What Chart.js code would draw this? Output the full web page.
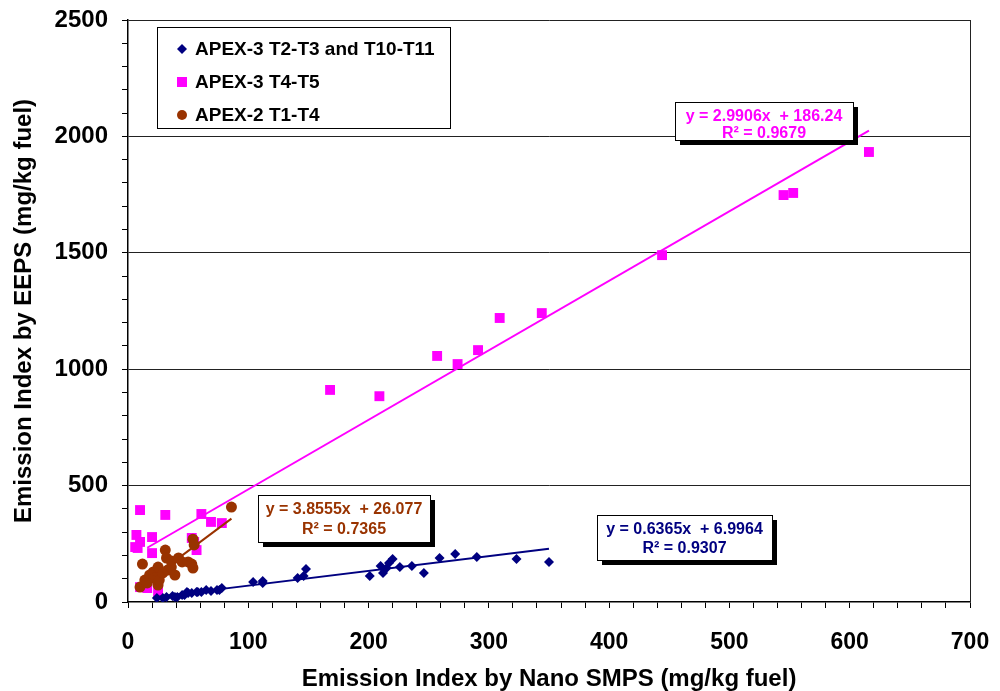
<!DOCTYPE html>
<html>
<head>
<meta charset="utf-8">
<script src="https://cdn.jsdelivr.net/npm/chart.js@4.4.0/dist/chart.umd.min.js"></script>
<style>
  html, body { margin: 0; background: #fff; }
  #wrap { width: 1000px; height: 691px; position: relative; }
</style>
</head>
<body>
<div id="wrap"><canvas id="chart"></canvas></div>
<script>
// Data: [Nano SMPS, EEPS] pairs in mg/kg fuel
const APEX3_T2T3 = [
  [24,17],[29,17],[32,21],[37,26],[39,21],[41,21],[45,30],[47,30],[49,43],[50,39],
  [53,39],[57,43],[58,43],[61,43],[65,52],[69,47],[74,52],[76,52],[78,60],
  [104,86],[112,90],[112,82],[141,103],[146,112],[148,142],[201,112],[210,155],
  [212,125],[215,146],[217,167],[220,185],[226,150],[236,155],[246,125],[259,189],
  [272,206],[290,193],[323,185],[350,172]
];
const APEX3_T4T5 = [
  [6,236],[7,288],[8,232],[10,258],[10,395],[10,64],[16,60],[20,279],[20,210],[25,43],
  [31,374],[53,275],[55,258],[57,223],[61,378],[69,344],[78,339],
  [168,911],[209,884],[257,1057],[274,1022],[291,1082],[309,1220],[344,1241],
  [444,1490],[545,1748],[553,1757],[616,1933]
];
const APEX2_T1T4 = [
  [10,64],[12,163],[14,94],[16,82],[18,116],[21,129],[22,103],[25,150],[25,73],[26,94],
  [29,125],[31,223],[32,189],[33,137],[36,176],[36,150],[39,116],[42,189],[45,172],
  [50,172],[53,163],[54,146],[54,270],[55,245],[86,408]
];

// Linear trendline end points (as drawn)
const TREND_T2T3 = [[24,22],[350,229]];
const TREND_T4T5 = [[16,233],[616,2025]];
const TREND_T1T4 = [[10,65],[86,358]];

const SERIES_NAMES = ["APEX-3 T2-T3 and T10-T11", "APEX-3 T4-T5", "APEX-2 T1-T4"];
const EQUATIONS = [
  ["y = 0.6365x  + 6.9964", "R\u00b2 = 0.9307"],
  ["y = 2.9906x  + 186.24", "R\u00b2 = 0.9679"],
  ["y = 3.8555x  + 26.077", "R\u00b2 = 0.7365"]
];

const X_TICKS = [0, 100, 200, 300, 400, 500, 600, 700];
const Y_TICKS = [0, 500, 1000, 1500, 2000, 2500];

const NAVY = "#000080", MAGENTA = "#ff00ff", BROWN = "#993300";
const FONT = "'Liberation Sans', Arial, sans-serif";

const pts = arr => arr.map(([x, y]) => ({ x, y }));

// legend + equation boxes drawn on the canvas
const annotations = {
  id: "annotations",
  afterDatasetsDraw(chart) {
    const ctx = chart.ctx;
    const area = chart.chartArea;
    ctx.save();
    // right border of the plot
    ctx.strokeStyle = "#222";
    ctx.lineWidth = 1;
    ctx.beginPath();
    ctx.moveTo(area.right + 0.5, area.top);
    ctx.lineTo(area.right + 0.5, area.bottom);
    ctx.stroke();

    // equation boxes
    const boxes = [
      { x: 597, y: 515, w: 175, h: 45, l1: 530, l2: 549, color: NAVY, text: EQUATIONS[0] },
      { x: 675, y: 102, w: 178, h: 38, l1: 117, l2: 134, color: MAGENTA, text: EQUATIONS[1] },
      { x: 258, y: 495, w: 172, h: 47, l1: 510, l2: 530, color: BROWN, text: EQUATIONS[2] }
    ];
    boxes.forEach(b => {
      ctx.fillStyle = "#000";
      ctx.fillRect(b.x + 5, b.y + 5, b.w, b.h);
      ctx.fillStyle = "#fff";
      ctx.fillRect(b.x, b.y, b.w, b.h);
      ctx.strokeStyle = "#000";
      ctx.lineWidth = 1;
      ctx.strokeRect(b.x + 0.5, b.y + 0.5, b.w, b.h);
      ctx.fillStyle = b.color;
      ctx.font = "bold 16px " + FONT;
      ctx.textAlign = "center";
      ctx.textBaseline = "middle";
      ctx.fillText(b.text[0], b.x + b.w / 2, b.l1);
      ctx.fillText(b.text[1], b.x + b.w / 2, b.l2);
    });

    // legend
    ctx.fillStyle = "#fff";
    ctx.fillRect(157, 27, 293, 101);
    ctx.strokeStyle = "#000";
    ctx.strokeRect(157.5, 27.5, 293, 101);
    const rows = [49, 82, 115];
    ctx.font = "bold 19px " + FONT;
    ctx.textAlign = "left";
    ctx.textBaseline = "middle";
    SERIES_NAMES.forEach((name, i) => {
      const y = rows[i];
      if (i === 0) {
        ctx.fillStyle = NAVY;
        ctx.beginPath();
        ctx.moveTo(182, y - 5); ctx.lineTo(187, y); ctx.lineTo(182, y + 5); ctx.lineTo(177, y);
        ctx.closePath(); ctx.fill();
      } else if (i === 1) {
        ctx.fillStyle = MAGENTA;
        ctx.fillRect(177, y - 5, 10, 10);
      } else {
        ctx.fillStyle = BROWN;
        ctx.beginPath(); ctx.arc(182, y, 5, 0, Math.PI * 2); ctx.fill();
      }
      ctx.fillStyle = "#000";
      ctx.fillText(name, 195, y + 1);
    });
    ctx.restore();
  }
};

const trend = (data, color, order) => ({
  type: "line", data: pts(data), borderColor: color, borderWidth: 2,
  pointRadius: 0, fill: false, showLine: true, order
});

new Chart(document.getElementById("chart"), {
  type: "scatter",
  data: {
    datasets: [
      { label: SERIES_NAMES[1], data: pts(APEX3_T4T5), backgroundColor: MAGENTA, borderColor: MAGENTA,
        pointStyle: "rect", pointRadius: 7, pointBorderWidth: 0, order: 5 },
      trend(TREND_T4T5, MAGENTA, 4),
      { label: SERIES_NAMES[0], data: pts(APEX3_T2T3), backgroundColor: NAVY, borderColor: NAVY,
        pointStyle: "rectRot", pointRadius: 5, pointBorderWidth: 0, order: 3 },
      trend(TREND_T2T3, NAVY, 2),
      { label: SERIES_NAMES[2], data: pts(APEX2_T1T4), backgroundColor: BROWN, borderColor: BROWN,
        pointStyle: "circle", pointRadius: 5.5, pointBorderWidth: 0, order: 1 },
      trend(TREND_T1T4, BROWN, 0)
    ]
  },
  options: {
    responsive: true,
    maintainAspectRatio: false,
    animation: false,
    layout: { padding: { top: 20, right: 30, bottom: 0, left: 0 } },
    plugins: { legend: { display: false }, tooltip: { enabled: false } },
    scales: {
      x: {
        type: "linear", min: 0, max: 700,
        afterFit: s => { s.height = 89; s.paddingLeft = 0; s.paddingRight = 0; },
        afterBuildTicks: s => { s.ticks = []; for (let v = 0; v <= 700; v += 20) s.ticks.push({ value: v }); },
        ticks: {
          autoSkip: false, maxRotation: 0, padding: 21, color: "#000",
          font: { family: FONT, size: 23, weight: "bold" },
          callback: v => X_TICKS.includes(v) ? String(v) : ""
        },
        grid: { drawOnChartArea: false, tickLength: 6, color: "#000", lineWidth: 1 },
        border: { color: "#000", width: 1.5 },
        title: {
          display: true, text: "Emission Index by Nano SMPS (mg/kg fuel)", color: "#000",
          font: { family: FONT, size: 24, weight: "bold", lineHeight: 1 }, padding: { top: 0, bottom: 0 }
        }
      },
      y: {
        type: "linear", min: 0, max: 2500,
        afterFit: s => { s.width = 128; s.paddingTop = 0; s.paddingBottom = 0; },
        afterBuildTicks: s => { s.ticks = []; for (let v = 0; v <= 2500; v += 100) s.ticks.push({ value: v }); },
        ticks: {
          autoSkip: false, padding: 14, color: "#000",
          font: { family: FONT, size: 24, weight: "bold" },
          callback: v => Y_TICKS.includes(v) ? String(v) : ""
        },
        grid: {
          tickLength: 6, tickColor: "#000", lineWidth: 1,
          color: c => (c.tick && Y_TICKS.includes(c.tick.value) && c.tick.value > 0) ? "#222" : "rgba(0,0,0,0)"
        },
        border: { color: "#000", width: 1.5 },
        title: {
          display: true, text: "Emission Index by EEPS (mg/kg fuel)", color: "#000",
          font: { family: FONT, size: 24, weight: "bold", lineHeight: 1 }, padding: { top: 12, bottom: 0 }
        }
      }
    }
  },
  plugins: [annotations]
});
</script>
</body>
</html>
